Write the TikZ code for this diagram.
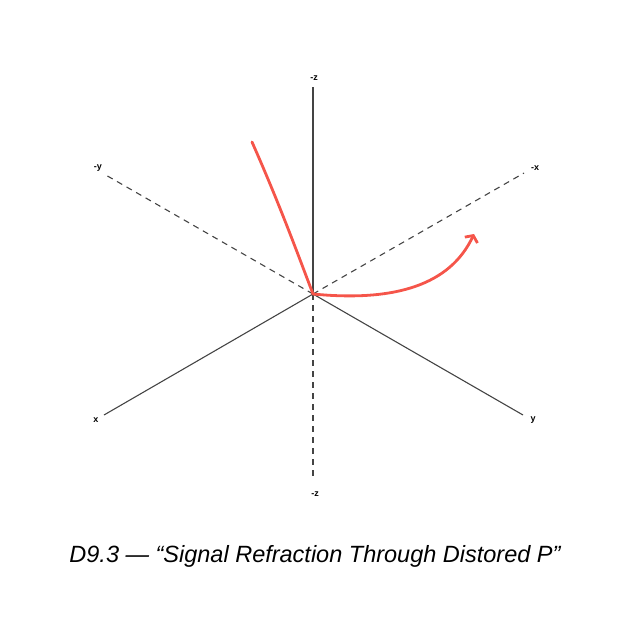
\documentclass[tikz,border=0pt]{standalone}
\usepackage{fontspec}
\setmainfont{Liberation Sans}
\usetikzlibrary{arrows.meta}

\definecolor{axisgray}{HTML}{444444}
\definecolor{raycol}{HTML}{F5554A}

\begin{document}
\begin{tikzpicture}[
				x=1pt, y=-1pt,
				axis/.style={draw=axisgray, line width=1.1pt},
				hidden/.style={axis, dash pattern=on 6pt off 5pt},
				lbl/.style={font=\bfseries\fontsize{9}{10}\selectfont, inner sep=0pt},
				ray/.style={draw=raycol, line width=2.8pt, line cap=round, line join=round}
			]
			
			\useasboundingbox (0,0) rectangle (627,627);
			
			\coordinate (O) at (313,294);
			\coordinate (zn) at (313,87);
			\coordinate (zs) at (313,480);
			\coordinate (yn) at (104,174);
			\coordinate (xn) at (524,173);
			\coordinate (xp) at (104,415);
			\coordinate (yp) at (523,415);
			
			\node [lbl] (lzn) at (314,78) {-z};
			\node [lbl] (lzs) at (315,494) {-z};
			\node [lbl] (lyn) at (98,168) {-y};
			\node [lbl] (lxn) at (535,168) {-x};
			\node [lbl] (lxp) at (96,420) {x};
			\node [lbl] (lyp) at (533,420) {y};
			
			\draw [axis] (O) -- (zn);
			\draw [axis] (O) -- (xp);
			\draw [axis] (O) -- (yp);
			\draw [hidden] (O) -- (zs);
			\draw [hidden] (O) -- (yn);
			\draw [hidden] (O) -- (xn);
			
			\coordinate (src) at (252,142);
			\coordinate (tip) at (474,234);
			\draw [ray] (src) .. controls (280,205) and (300,260) .. (O);
			\draw [ray,-{Straight Barb[length=5pt,width=14pt]}] (O) .. controls (395,302) and (450,285) .. (tip);
			
			\node [font=\itshape\fontsize{23.5}{28}\selectfont] (title) at (315,556) {D9.3 — “Signal Refraction Through Distored P”};
		\end{tikzpicture}
\end{document}
